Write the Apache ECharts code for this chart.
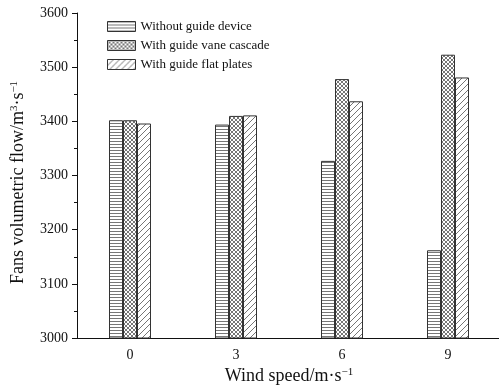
<!DOCTYPE html>
<html>
<head>
<meta charset="utf-8">
<script src="https://cdn.jsdelivr.net/npm/echarts@6/dist/echarts.min.js"></script>
<style>
  html, body { margin: 0; padding: 0; background: #fff; }
  #chart { width: 499px; height: 386px; }
</style>
</head>
<body>
<div id="chart"></div>
<script>
const windSpeeds = ["0", "3", "6", "9"];
const withoutGuide = [3402, 3394, 3327, 3162];
const guideVaneCascade = [3402, 3410, 3478, 3523];
const guideFlatPlates = [3396, 3411, 3437, 3481];

// little canvases used as fill patterns
function makePattern(kind) {
  const c = document.createElement("canvas");
  const ctx = c.getContext("2d");
  if (kind === "horizontal") {
    c.width = 4; c.height = 3;
    ctx.fillStyle = "#fff"; ctx.fillRect(0, 0, 4, 3);
    ctx.fillStyle = "#777"; ctx.fillRect(0, 0, 4, 1);
  } else if (kind === "cross") {
    c.width = 4; c.height = 4;
    ctx.fillStyle = "#fff"; ctx.fillRect(0, 0, 4, 4);
    ctx.strokeStyle = "#666"; ctx.lineWidth = 0.9;
    ctx.beginPath();
    ctx.moveTo(0, 0); ctx.lineTo(4, 4);
    ctx.moveTo(4, 0); ctx.lineTo(0, 4);
    ctx.stroke();
  } else {
    c.width = 6; c.height = 6;
    ctx.fillStyle = "#fff"; ctx.fillRect(0, 0, 6, 6);
    ctx.strokeStyle = "#666"; ctx.lineWidth = 0.9;
    ctx.beginPath();
    ctx.moveTo(-1, 7); ctx.lineTo(7, -1);
    ctx.moveTo(-1, 1); ctx.lineTo(1, -1);
    ctx.moveTo(5, 7); ctx.lineTo(7, 5);
    ctx.stroke();
  }
  return { image: c, repeat: "repeat" };
}

const font = "'Liberation Serif', 'Times New Roman', serif";
const supStyle = { fontFamily: font, fontSize: 11, verticalAlign: "top", padding: [0, 0, 8, 0], color: "#111" };
const chart = echarts.init(document.getElementById("chart"));

function barSeries(name, data, kind) {
  return {
    name: name,
    type: "bar",
    data: data,
    barWidth: 14,
    barGap: "0%",
    itemStyle: {
      color: makePattern(kind),
      borderColor: "#333",
      borderWidth: 1
    }
  };
}

const option = {
  animation: false,
  backgroundColor: "#fff",
  textStyle: { fontFamily: font },
  grid: { left: 77, top: 13, width: 424, height: 325, outerBoundsMode: "none", containLabel: false },
  legend: {
    orient: "vertical",
    left: 102,
    top: 15,
    icon: "rect",
    itemWidth: 28,
    itemHeight: 10,
    itemGap: 6,
    textStyle: { fontFamily: font, fontSize: 13, color: "#111" },
    itemStyle: { borderColor: "#333", borderWidth: 1 }
  },
  xAxis: [
    {
      type: "category",
      data: windSpeeds,
      name: "Wind speed/m·s{sup|−1}",
      nameLocation: "middle",
      nameGap: 29,
      nameTextStyle: {
        fontFamily: font, fontSize: 18, color: "#111",
        rich: { sup: supStyle }
      },
      axisLine: { lineStyle: { color: "#111", width: 1 } },
      axisTick: { alignWithLabel: true, length: 5, lineStyle: { color: "#111" } },
      axisLabel: { fontFamily: font, fontSize: 14, color: "#111", margin: 10 },
      splitLine: { show: false }
    },
    {
      type: "category",
      data: windSpeeds,
      position: "bottom",
      axisLine: { show: false },
      axisTick: { length: 3, lineStyle: { color: "#111" } },
      axisLabel: { show: false },
      splitLine: { show: false }
    }
  ],
  yAxis: {
    type: "value",
    min: 3000,
    max: 3600,
    interval: 100,
    name: "Fans volumetric flow/m{sup|3}·s{sup|−1}",
    nameLocation: "middle",
    nameGap: 49,
    nameTextStyle: {
      fontFamily: font, fontSize: 18, color: "#111",
      padding: [0, 14, 0, 0],
      rich: { sup: supStyle }
    },
    axisLine: { show: true, lineStyle: { color: "#111", width: 1 } },
    axisTick: { show: true, length: 5, lineStyle: { color: "#111" } },
    minorTick: { show: true, splitNumber: 2, length: 3, lineStyle: { color: "#111" } },
    axisLabel: { fontFamily: font, fontSize: 14, color: "#111", margin: 9, formatter: (v) => String(v) },
    splitLine: { show: false }
  },
  series: [
    barSeries("Without guide device", withoutGuide, "horizontal"),
    barSeries("With guide vane cascade", guideVaneCascade, "cross"),
    barSeries("With guide flat plates", guideFlatPlates, "diagonal")
  ]
};

chart.setOption(option);
</script>
</body>
</html>
